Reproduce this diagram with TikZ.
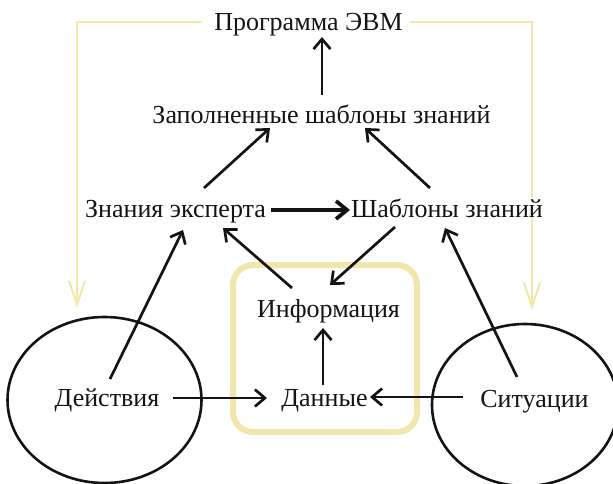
\documentclass[tikz,border=0pt]{standalone}
\usepackage{fontspec}
\setmainfont{Liberation Serif}
\usetikzlibrary{arrows.meta,shapes.geometric}
\definecolor{ink}{HTML}{141414}
\definecolor{pale}{HTML}{F3E8A8}
\definecolor{framecol}{HTML}{F1E6AE}
\tikzset{
  lbl/.style={inner sep=0pt, anchor=base, text=ink, fill=white, font=\fontsize{26}{30}\selectfont},
  arr/.style={draw=ink, line width=2.7pt, -{Straight Barb[length=10pt,width=17pt]}},
  thickarr/.style={draw=ink, line width=3.8pt, -{Straight Barb[length=11pt,width=18pt]}},
  feed/.style={draw=pale, line width=2pt, -{Straight Barb[length=24pt,width=16pt]}},
  blob/.style={ellipse, draw=ink, line width=2.6pt, inner sep=0pt},
}
\begin{document}
\begin{tikzpicture}[x=1pt, y=-1pt]
  \useasboundingbox (0,0) rectangle (613,484);
  \clip (0,0) rectangle (613,484);

  % rounded frame around the data / information pair
  \draw[framecol, line width=6pt, rounded corners=20pt] (233,265) rectangle (417,432);

  % feedback from the program back to the world (under the labels)
  \coordinate (cornerL) at (77,22);
  \coordinate (cornerR) at (532,22);
  \coordinate (progL) at (202,22);
  \coordinate (progR) at (410,22);
  \draw[feed] (progL) -- (cornerL) -- (cornerL |- 0,308);
  \draw[feed] (progR) -- (cornerR) -- (cornerR |- 0,310);

  % the two regions of the outer world
  \node[blob, minimum width=194pt, minimum height=166pt] (ellL) at (104.5,400) {};
  \node[blob, minimum width=186pt, minimum height=162pt] (ellR) at (525,405) {};

  % labels
  \node[lbl] (prog) at (308.5,31)  {Программа ЭВМ};
  \node[lbl] (fill) at (321.5,124) {Заполненные шаблоны знаний};
  \node[lbl] (zn)   at (175.5,217) {Знания эксперта};
  \node[lbl] (shab) at (447,217)   {Шаблоны знаний};
  \node[lbl] (info) at (328.5,317) {Информация};
  \node[lbl] (data) at (324.5,406) {Данные};
  \node[lbl] (act)  at (107,406)   {Действия};
  \node[lbl] (sit)  at (534.5,407) {Ситуации};

  % knowledge flow
  \draw[arr] ([shift={(0.5,-29)}]fill.base) -- ([shift={(13.5,6)}]prog.base);
  \draw[arr] ([shift={(28.5,-29)}]zn.base) -- ([shift={(-51.5,4)}]fill.base);
  \draw[arr] ([shift={(-17,-29)}]shab.base) -- ([shift={(43.5,4)}]fill.base);
  \draw[thickarr] ([shift={(95.5,-7)}]zn.base) -- ([shift={(-97,-7)}]shab.base);
  \draw[arr] ([shift={(-52,10)}]shab.base) -- ([shift={(1.5,-32)}]info.base);
  \draw[arr] ([shift={(-36.5,-29)}]info.base) -- ([shift={(47.5,11)}]zn.base);
  \draw[arr] ([shift={(-1.5,-21)}]data.base) -- ([shift={(-5.5,11)}]info.base);
  \draw[arr] ([shift={(66,-8)}]act.base) -- ([shift={(-57.5,-8)}]data.base);
  \draw[arr] ([shift={(-71.5,-10)}]sit.base) -- ([shift={(45.5,-9)}]data.base);
  \draw[arr] ([shift={(3,-27)}]act.base) -- ([shift={(7.5,13)}]zn.base);
  \draw[arr] ([shift={(-17.5,-30)}]sit.base) -- ([shift={(-2,11)}]shab.base);
\end{tikzpicture}
\end{document}
